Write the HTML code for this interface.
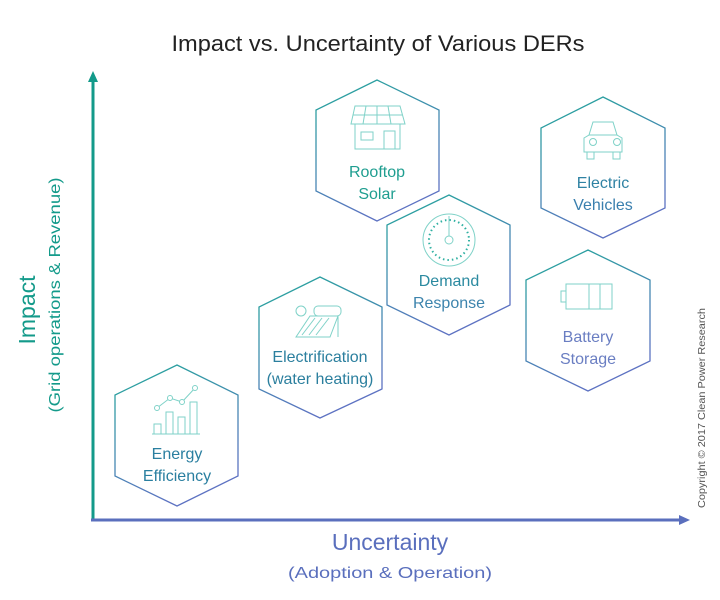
<!DOCTYPE html>
<html><head><meta charset="utf-8"><style>
html,body{margin:0;padding:0;background:#fff;}
svg{display:block;font-family:"Liberation Sans",sans-serif;}
</style></head><body>
<svg width="720" height="600" viewBox="0 0 720 600" xmlns="http://www.w3.org/2000/svg">
<defs>
<linearGradient id="g" x1="0" y1="0" x2="0.4" y2="1">
<stop offset="0" stop-color="#22a89a"/><stop offset="1" stop-color="#5d72c2"/>
</linearGradient>
<linearGradient id="gv" x1="0" y1="0" x2="0" y2="1" gradientUnits="objectBoundingBox">
<stop offset="0" stop-color="#21a596"/><stop offset="1" stop-color="#4a86b0"/>
</linearGradient>
</defs>
<rect width="720" height="600" fill="#fff"/>
<text x="378" y="51" text-anchor="middle" font-size="22" fill="#222" textLength="413" lengthAdjust="spacingAndGlyphs">Impact vs. Uncertainty of Various DERs</text>

<!-- axes -->
<line x1="93" y1="80" x2="93" y2="521" stroke="#139a8a" stroke-width="3"/>
<polygon points="93,71 88,82 98,82" fill="#139a8a"/>
<line x1="91" y1="520" x2="682" y2="520" stroke="#5a6fbd" stroke-width="3"/>
<polygon points="690,520 679,515 679,525" fill="#5a6fbd"/>

<text transform="translate(35,310) rotate(-90)" text-anchor="middle" font-size="23" fill="#139a8a">Impact</text>
<text transform="translate(60,295) rotate(-90)" text-anchor="middle" font-size="16" fill="#139a8a" textLength="235" lengthAdjust="spacingAndGlyphs">(Grid operations &amp; Revenue)</text>
<text x="390" y="550" text-anchor="middle" font-size="23" fill="#5a6fbd">Uncertainty</text>
<text x="390" y="578" text-anchor="middle" font-size="16" fill="#5a6fbd" textLength="204" lengthAdjust="spacingAndGlyphs">(Adoption &amp; Operation)</text>
<text transform="translate(705,408) rotate(-90)" text-anchor="middle" font-size="10.5" fill="#555" textLength="200" lengthAdjust="spacingAndGlyphs">Copyright © 2017 Clean Power Research</text>

<!-- hexagons -->
<g fill="none" stroke="url(#g)" stroke-width="1.3">
<polygon points="377,80 439,110 439,191 377,221 316,191 316,110"/>
<polygon points="449,195 510,225 510,305 449,335 387,305 387,225"/>
<polygon points="320,277 382,307 382,389 320,418 259,389 259,307"/>
<polygon points="177,365 238,395 238,476 177,506 115,476 115,395"/>
<polygon points="603,97 665,128 665,208 603,238 541,208 541,128"/>
<polygon points="588,250 650,280 650,361 588,391 526,361 526,280"/>
</g>

<!-- labels -->
<g font-size="16" text-anchor="middle">
<text x="377" y="177" fill="#1f9e90">Rooftop</text><text x="377" y="199" fill="#1f9e90">Solar</text>
<text x="449" y="286" fill="#2b8aa0">Demand</text><text x="449" y="308" fill="#3d84ad">Response</text>
<text x="320" y="362" fill="#2b7f9e">Electrification</text><text x="320" y="384" fill="#2b7f9e">(water heating)</text>
<text x="177" y="459" fill="#2a7fa0">Energy</text><text x="177" y="481" fill="#2a7fa0">Efficiency</text>
<text x="603" y="188" fill="#2f82a3">Electric</text><text x="603" y="210" fill="#3a7fae">Vehicles</text>
<text x="588" y="342" fill="#6a7ec2">Battery</text><text x="588" y="364" fill="#6a7ec2">Storage</text>
</g>

<!-- icons -->
<g fill="none" stroke="#7fd2c8" stroke-width="1">
<!-- house -->
<polygon points="355,106 400,106 405,124 351,124"/>
<line x1="366" y1="106" x2="363" y2="124"/><line x1="377" y1="106" x2="377" y2="124"/><line x1="388" y1="106" x2="391" y2="124"/>
<line x1="353" y1="115" x2="402" y2="115"/>
<rect x="355" y="124" width="45" height="25"/>
<rect x="361" y="132" width="12" height="8"/><rect x="384" y="131" width="11" height="18"/>
<!-- gauge -->
<circle cx="449" cy="240" r="26"/>
<circle cx="449" cy="240" r="20" stroke-dasharray="1.5 3" stroke-width="2" stroke="#2fb0a2"/>
<line x1="449" y1="216" x2="449" y2="236"/><circle cx="449" cy="240" r="4"/>
<!-- water heater -->
<circle cx="301" cy="311" r="5"/>
<rect x="314" y="306" width="27" height="10" rx="4"/>
<polygon points="310,316 338,316 330,337 296,337"/>
<line x1="315" y1="318" x2="302" y2="335"/><line x1="322" y1="318" x2="309" y2="335"/><line x1="329" y1="318" x2="316" y2="335"/>
<line x1="338" y1="316" x2="338" y2="337"/>
<!-- energy -->
<rect x="154" y="424" width="7" height="10"/><rect x="166" y="412" width="7" height="22"/><rect x="178" y="417" width="7" height="17"/><rect x="190" y="402" width="7" height="32"/>
<line x1="152" y1="434" x2="200" y2="434"/>
<polyline points="157,408 170,398 182,402 195,388"/>
<circle cx="157" cy="408" r="2.5" fill="#fff"/><circle cx="170" cy="398" r="2.5" fill="#fff"/><circle cx="182" cy="402" r="2.5" fill="#fff"/><circle cx="195" cy="388" r="2.5" fill="#fff"/>
<!-- car -->
<path d="M584,152 L584,138 L589,135 L593,122 L613,122 L617,135 L622,138 L622,152 Z"/>
<line x1="589" y1="135" x2="617" y2="135"/>
<circle cx="593" cy="142" r="3.5"/><circle cx="617" cy="142" r="3.5"/>
<rect x="587" y="152" width="7" height="7"/><rect x="613" y="152" width="7" height="7"/>
<!-- battery -->
<rect x="561" y="291" width="5" height="11"/>
<rect x="566" y="284" width="46" height="25"/>
<line x1="589" y1="284" x2="589" y2="309"/><line x1="600" y1="284" x2="600" y2="309"/>
</g>
</svg>
</body></html>
